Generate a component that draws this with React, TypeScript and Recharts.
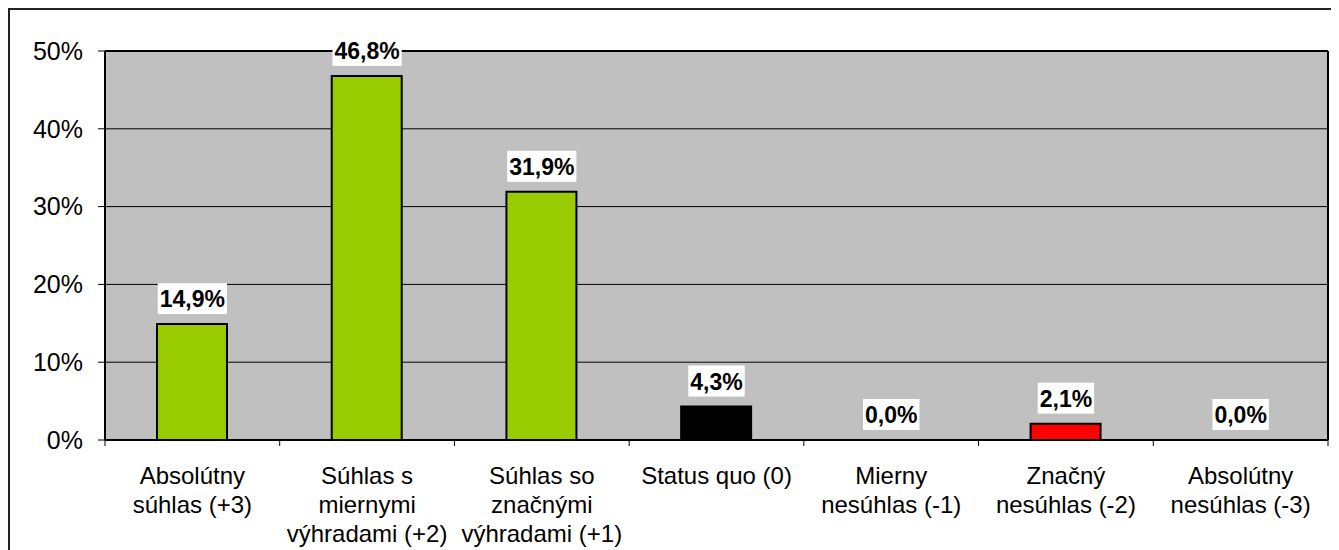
import React from "react";
import { ComposedChart, Bar, Line, XAxis, YAxis, CartesianGrid, Cell, LabelList } from "recharts";

const categories = [
  "Absolútny súhlas (+3)",
  "Súhlas s miernymi výhradami (+2)",
  "Súhlas so značnými výhradami (+1)",
  "Status quo (0)",
  "Mierny nesúhlas (-1)",
  "Značný nesúhlas (-2)",
  "Absolútny nesúhlas (-3)",
];
const tickLines = [
  ["Absolútny", "súhlas (+3)"],
  ["Súhlas s", "miernymi", "výhradami (+2)"],
  ["Súhlas so", "značnými", "výhradami (+1)"],
  ["Status quo (0)"],
  ["Mierny", "nesúhlas (-1)"],
  ["Značný", "nesúhlas (-2)"],
  ["Absolútny", "nesúhlas (-3)"],
];
const values = [14.9, 46.8, 31.9, 4.3, 0.0, 2.1, 0.0];
const barColors = ["#99CC00", "#99CC00", "#99CC00", "#000000", "#99CC00", "#FF0000", "#99CC00"];
const yTicks = [0, 10, 20, 30, 40, 50];

const data = categories.map((c, i) => ({ name: c, value: values[i] }));

const FONT = "'Liberation Sans', Arial, sans-serif";
const CHART_W = 1329;
const CHART_H = 540;
const MARGIN = { top: 40, right: 10, bottom: 10, left: 0 };
const Y_W = 95;
const PLOT_W = CHART_W - MARGIN.left - MARGIN.right - Y_W - 1;

const fmt = (v: number) => v.toFixed(1).replace(".", ",") + "%";

const boldWidth = (s: string, size: number) => {
  let w = 0;
  for (const ch of s) {
    if (ch >= "0" && ch <= "9") w += 0.556;
    else if (ch === ",") w += 0.278;
    else if (ch === "%") w += 0.889;
    else w += 0.556;
  }
  return w * size;
};

const DataLabel = (props: any) => {
  const { x, y, value } = props;
  const cx = Number(x);
  const txt = fmt(Number(value));
  const fs = 23;
  const w = boldWidth(txt, fs) + 4;
  const bottom = Number(y) - 10;
  const top = bottom - 31;
  return (
    <g>
      <rect x={cx - w / 2} y={top} width={w} height={31} fill="#FFFFFF" />
      <text x={cx} y={top + 24} textAnchor="middle" fontSize={fs} fontWeight="bold" fontFamily={FONT} fill="#000">
        {txt}
      </text>
    </g>
  );
};

const XTick = (props: any) => {
  const { x, y, payload } = props;
  const idx = payload.index;
  const half = payload.offset != null && payload.offset > 0 ? payload.offset : PLOT_W / (categories.length * 2);
  const lines = tickLines[idx] || [String(payload.value)];
  return (
    <g>
      <line x1={x - half} x2={x - half} y1={y} y2={y + 6} stroke="#000" strokeWidth={1} />
      {idx === categories.length - 1 && (
        <line x1={x + half} x2={x + half} y1={y} y2={y + 6} stroke="#000" strokeWidth={1} />
      )}
      <text x={x} y={y + 44} textAnchor="middle" fontSize={24} fontFamily={FONT} fill="#000">
        {lines.map((l, i) => (
          <tspan key={i} x={x} y={y + 44 + i * 28.8}>
            {l}
          </tspan>
        ))}
      </text>
    </g>
  );
};

export default function App() {
  return (
    <div style={{ position: "relative", width: 1331, height: 542, overflow: "hidden" }}>
      <style>{`html,body{overflow:hidden;}`}</style>
      <div
        style={{
          position: "absolute",
          left: 0,
          top: 0,
          width: 1400,
          height: 600,
          borderTop: "2px solid #222",
          borderLeft: "2px solid #222",
        }}
      />
      <div style={{ position: "absolute", left: 2, top: 2 }}>
        <ComposedChart
          width={CHART_W}
          height={CHART_H}
          data={data}
          margin={MARGIN}
          barSize={70}
          style={{ fontFamily: FONT }}
        >
          <CartesianGrid horizontal={true} vertical={false} stroke="#000" strokeWidth={1} fill="#C0C0C0" fillOpacity={1} />
          <XAxis
            dataKey="name"
            interval={0}
            height={100}
            tickLine={false}
            tickSize={0}
            tickMargin={0}
            axisLine={{ stroke: "#000", strokeWidth: 2 }}
            tick={<XTick />}
          />
          <XAxis
            xAxisId="top"
            orientation="top"
            dataKey="name"
            height={1}
            tick={false}
            tickLine={false}
            axisLine={{ stroke: "#000", strokeWidth: 2 }}
          />
          <YAxis
            width={Y_W}
            domain={[0, 50]}
            ticks={yTicks}
            interval={0}
            tickSize={7}
            tickMargin={15}
            tickLine={{ stroke: "#000", strokeWidth: 1 }}
            axisLine={{ stroke: "#000", strokeWidth: 2 }}
            tickFormatter={(v: number) => `${v}%`}
            tick={{ fontSize: 25, fill: "#000", fontFamily: FONT }}
          />
          <YAxis
            yAxisId="right"
            orientation="right"
            width={1}
            domain={[0, 50]}
            ticks={yTicks}
            tick={false}
            tickLine={false}
            axisLine={{ stroke: "#000", strokeWidth: 2 }}
          />
          <Bar dataKey="value" stroke="#000" strokeWidth={2} isAnimationActive={false}>
            {data.map((d, i) => (
              <Cell key={i} fill={barColors[i]} />
            ))}
          </Bar>
          <Line
            xAxisId="top"
            yAxisId="right"
            dataKey="value"
            stroke="none"
            dot={false}
            activeDot={false}
            isAnimationActive={false}
          >
            <LabelList dataKey="value" content={<DataLabel />} />
          </Line>
        </ComposedChart>
      </div>
    </div>
  );
}
